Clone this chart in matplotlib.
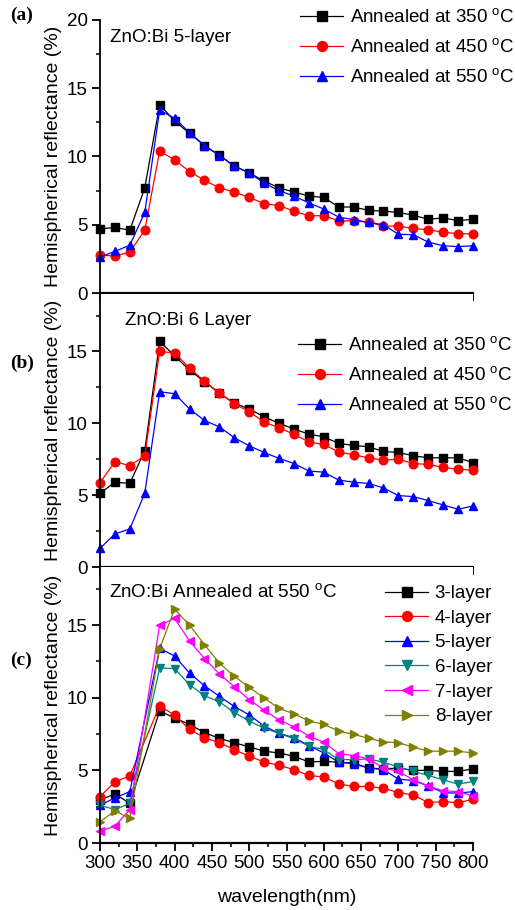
import matplotlib
matplotlib.use("Agg")
import matplotlib.pyplot as plt
from matplotlib.ticker import MultipleLocator, NullFormatter

plt.rcParams['font.family'] = ['Liberation Sans', 'DejaVu Sans']
plt.rcParams['mathtext.fontset'] = 'custom'
plt.rcParams['mathtext.rm'] = 'Liberation Sans'

# wavelengths (nm)
wl_ab = [300, 320, 340, 360, 380, 400, 420, 440, 460, 480, 500, 520, 540,
         560, 580, 600, 620, 640, 660, 680, 700, 720, 740, 760, 780, 800]
wl_c = [300, 320, 340, 380, 400, 420, 440, 460, 480, 500, 520, 540,
        560, 580, 600, 620, 640, 660, 680, 700, 720, 740, 760, 780, 800]

# (a) ZnO:Bi 5-layer
a_350 = [4.7, 4.8, 4.6, 7.7, 13.8, 12.6, 11.7, 10.8, 10.1, 9.3, 8.8, 8.2, 7.7,
         7.4, 7.1, 7.0, 6.3, 6.3, 6.05, 6.0, 5.9, 5.7, 5.4, 5.5, 5.3, 5.4]
a_450 = [2.8, 2.7, 3.0, 4.6, 10.4, 9.75, 8.9, 8.25, 7.7, 7.4, 7.0, 6.55, 6.4,
         6.0, 5.66, 5.66, 5.3, 5.27, 5.2, 4.9, 4.9, 4.73, 4.63, 4.46, 4.34, 4.34]
a_550 = [2.63, 3.05, 3.5, 5.9, 13.4, 12.8, 11.75, 10.8, 10.07, 9.3, 8.8, 8.05, 7.5,
         7.1, 6.6, 6.15, 5.56, 5.37, 5.17, 5.0, 4.3, 4.27, 3.73, 3.46, 3.4, 3.46]

# (b) ZnO:Bi 6 layer
b_350 = [5.13, 5.9, 5.82, 8.1, 15.7, 14.7, 13.7, 12.9, 12.1, 11.4, 11.0, 10.45, 10.0,
         9.6, 9.25, 9.06, 8.6, 8.46, 8.37, 8.04, 7.97, 7.74, 7.6, 7.6, 7.6, 7.26]
b_450 = [5.87, 7.33, 7.05, 7.74, 15.0, 14.9, 13.84, 12.94, 12.1, 11.37, 10.8, 10.1, 9.68,
         9.24, 8.7, 8.53, 8.0, 7.8, 7.6, 7.44, 7.5, 7.2, 7.14, 6.93, 6.8, 6.75]
b_550 = [1.3, 2.3, 2.65, 5.13, 12.2, 12.06, 11.0, 10.2, 9.75, 9.0, 8.43, 7.97, 7.56,
         7.2, 6.68, 6.6, 6.05, 5.9, 5.82, 5.5, 4.97, 4.9, 4.62, 4.32, 4.02, 4.25]

# (c) annealed at 550 C, by layer count
c_3 = [2.96, 3.38, 2.73, 9.1, 8.6, 8.17, 7.6, 7.2, 6.9, 6.62, 6.32, 6.2,
       5.97, 5.58, 5.62, 5.56, 5.5, 5.16, 5.1, 5.16, 5.0, 5.0, 4.93, 4.93, 5.1]
c_4 = [3.2, 4.2, 4.63, 9.44, 8.8, 7.82, 7.25, 6.9, 6.43, 5.97, 5.58, 5.35,
       5.05, 4.65, 4.54, 4.07, 3.89, 3.89, 3.77, 3.47, 3.31, 2.78, 2.85, 2.78, 3.0]
c_5 = [2.6, 3.1, 3.54, 13.4, 12.87, 11.7, 10.83, 10.1, 9.4, 8.82, 8.05, 7.55,
       7.25, 6.7, 6.2, 5.56, 5.46, 5.16, 5.05, 4.4, 4.3, 3.93, 3.47, 3.43, 3.54]
c_6 = [2.6, 2.3, 2.73, 12.06, 12.0, 10.9, 10.14, 9.72, 8.98, 8.4, 7.9, 7.55,
       7.18, 6.67, 6.43, 5.74, 5.74, 5.79, 5.56, 5.23, 4.93, 4.65, 4.35, 4.05, 4.24]
c_7 = [0.81, 1.16, 2.3, 15.0, 15.46, 13.9, 12.7, 11.64, 10.76, 9.86, 9.14, 8.47,
       7.99, 7.36, 6.94, 6.16, 6.02, 5.79, 5.16, 4.93, 4.35, 3.93, 3.59, 3.54, 3.24]
c_8 = [1.46, 2.22, 1.69, 13.38, 16.1, 15.0, 13.66, 12.38, 11.48, 10.72, 9.98, 9.26,
       8.9, 8.4, 8.17, 7.7, 7.48, 7.2, 6.97, 6.9, 6.6, 6.32, 6.32, 6.32, 6.2]

temp_labels = [r'Annealed at 350 $^{\rm o}$C', r'Annealed at 450 $^{\rm o}$C',
               r'Annealed at 550 $^{\rm o}$C']
layer_labels = ['3-layer', '4-layer', '5-layer', '6-layer', '7-layer', '8-layer']

colors3 = ['black', 'red', 'blue']
markers3 = ['s', 'o', '^']
colors6 = ['black', 'red', 'blue', '#008080', '#ff00ff', '#808000']
markers6 = ['s', 'o', '^', 'v', '<', '>']

W, H = 515, 910
fig = plt.figure(figsize=(W / 100, H / 100), dpi=100)

left, right = 100 / W, 473 / W
boxes = [(20, 293), (294, 567), (567, 843)]
axes = []
for top, bot in boxes:
    ax = fig.add_axes([left, 1 - bot / H, right - left, (bot - top) / H])
    axes.append(ax)


def style(ax, ymax, ystep):
    ax.set_xlim(300, 800)
    ax.set_ylim(0, ymax)
    for s in ['top', 'right']:
        ax.spines[s].set_visible(False)
    ax.xaxis.set_major_locator(MultipleLocator(50))
    ax.xaxis.set_minor_locator(MultipleLocator(25))
    ax.yaxis.set_major_locator(MultipleLocator(ystep))
    ax.yaxis.set_minor_locator(MultipleLocator(ystep / 2))
    ax.tick_params(which='major', length=6, width=1.3, labelsize=13.5, pad=3)
    ax.tick_params(which='minor', length=3, width=1.1)
    ax.spines['left'].set_linewidth(1.3)
    ax.spines['bottom'].set_linewidth(1.6)
    ax.set_ylabel('Hemispherical reflectance (%)', fontsize=14, labelpad=3)


def draw(ax, xs, series, labels, colors, markers):
    for ys, lab, c, m in zip(series, labels, colors, markers):
        ax.plot(xs, ys, color=c, marker=m, markersize=6.2, linewidth=0.9,
                label=lab, clip_on=False)


draw(axes[0], wl_ab, [a_350, a_450, a_550], temp_labels, colors3, markers3)
draw(axes[1], wl_ab, [b_350, b_450, b_550], temp_labels, colors3, markers3)
draw(axes[2], wl_c, [c_3, c_4, c_5, c_6, c_7, c_8], layer_labels, colors6, markers6)

style(axes[0], 20, 5)
style(axes[1], 19, 5)
style(axes[2], 19, 5)
axes[0].xaxis.set_major_formatter(NullFormatter())
axes[1].xaxis.set_major_formatter(NullFormatter())
axes[2].set_xlabel('wavelength(nm)', fontsize=14, labelpad=12)

fig.text(110 / W, 1 - 37 / H, 'ZnO:Bi 5-layer', fontsize=13.5, va='center')
fig.text(125 / W, 1 - 320 / H, 'ZnO:Bi 6 Layer', fontsize=13.5, va='center')
fig.text(109 / W, 1 - 593 / H, r'ZnO:Bi Annealed at 550 $^{\rm o}$C', fontsize=13.5, va='center')

for lab, y in [('(a)', 15), ('(b)', 363), ('(c)', 660)]:
    fig.text(10 / W, 1 - y / H, lab, fontsize=14, fontweight='bold',
             family='Liberation Serif', va='center')

legend_kw = dict(frameon=False, fontsize=13.5, handlelength=2.3, handletextpad=0.35,
                 borderpad=0, borderaxespad=0, loc='upper left', markerscale=1.15)
axes[0].legend(bbox_to_anchor=(300 / W, 1 - 8 / H), bbox_transform=fig.transFigure,
               labelspacing=0.6, **legend_kw)
axes[1].legend(bbox_to_anchor=(298 / W, 1 - 336 / H), bbox_transform=fig.transFigure,
               labelspacing=0.6, **legend_kw)
axes[2].legend(bbox_to_anchor=(385 / W, 1 - 585 / H), bbox_transform=fig.transFigure,
               labelspacing=0.4, **legend_kw)

fig.savefig('out.png', dpi=100)
